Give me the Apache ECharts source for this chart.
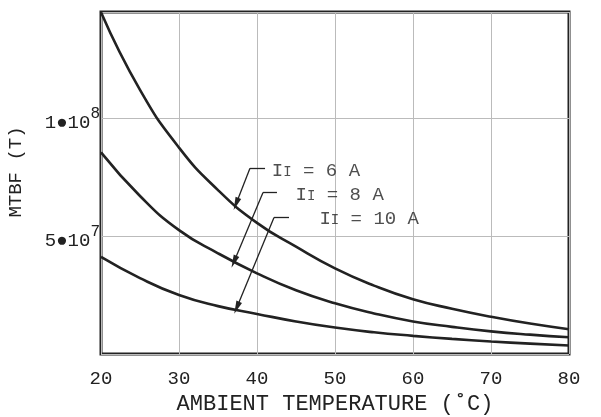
<!DOCTYPE html>
<html><head><meta charset="utf-8">
<script src="https://cdn.jsdelivr.net/npm/echarts@6/dist/echarts.min.js"></script>
<style>html,body{margin:0;padding:0;background:#fff}#c{width:601px;height:417px}</style>
</head><body><div id="c"></div>
<script>
const temps = [20, 25, 30, 35, 40, 45, 50, 55, 60, 65, 70, 75, 80];
const mtbf6A  = [1.449e8, 1.12e8, 8.75e7, 6.95e7, 5.56e7, 4.55e7, 3.63e7, 2.9e7, 2.32e7, 1.92e7, 1.58e7, 1.29e7, 1.05e7];
const mtbf8A  = [8.55e7, 6.7e7, 5.25e7, 4.27e7, 3.42e7, 2.7e7, 2.15e7, 1.72e7, 1.38e7, 1.15e7, 0.96e7, 0.82e7, 0.71e7];
const mtbf10A = [4.12e7, 3.22e7, 2.5e7, 2.03e7, 1.7e7, 1.38e7, 1.12e7, 0.92e7, 0.77e7, 0.64e7, 0.53e7, 0.44e7, 0.36e7];
const xTicks = [20, 30, 40, 50, 60, 70, 80];
const yTickValues = [5e7, 1e8];
const yTickBase = ['5\u25CF10', '1\u25CF10'];
const yTickExp = ['7', '8'];
const seriesNames = ['6 A', '8 A', '10 A'];
// annotation: text anchor [x,y], leader start, elbow, arrow tip (data coords)
const labelAnchor = [[41.9, 7.78e7], [44.95, 6.78e7], [48.0, 5.75e7]];
const leaderStart = [[41.03, 7.88e7], [42.56, 6.85e7], [44.10, 5.79e7]];
const leaderElbow = [[39.10, 7.88e7], [40.77, 6.85e7], [42.18, 5.79e7]];
const leaderTip   = [[37.31, 6.36e7], [37.05, 3.91e7], [37.40, 1.96e7]];

const FONT = '"Courier New", "Liberation Mono", monospace';
const INK = '#222';
const allSeries = [mtbf6A, mtbf8A, mtbf10A];

const chart = echarts.init(document.getElementById('c'), null, {renderer: 'canvas'});
const series = allSeries.map(vals => ({
  type: 'line', smooth: 0.5, symbol: 'none',
  lineStyle: {color: INK, width: 2.6},
  data: temps.map((t, i) => [t, vals[i]]),
  z: 3
}));
const mlData = [];
for (let i = 0; i < 3; i++) {
  mlData.push([{coord: leaderStart[i], symbol: 'none'}, {coord: leaderElbow[i], symbol: 'none'}]);
  mlData.push([{coord: leaderElbow[i], symbol: 'none'}, {coord: leaderTip[i], symbol: 'triangle', symbolSize: [6, 13]}]);
}
series.push({
  type: 'scatter', symbolSize: 0, silent: true,
  data: labelAnchor.map((p, i) => ({value: p, name: seriesNames[i]})),
  label: {
    show: true, position: 'right', distance: 0,
    formatter: p => '{b|I}{s|I}{b| = ' + p.name + '}',
    rich: {
      b: {fontFamily: FONT, fontSize: 19, color: INK, verticalAlign: 'bottom', lineHeight: 20},
      s: {fontFamily: FONT, fontSize: 14, color: INK, verticalAlign: 'bottom', lineHeight: 20, padding: [0, 0, 1, 0]}
    }
  },
  markLine: {
    silent: true, animation: false,
    lineStyle: {color: INK, width: 1.3, type: 'solid'},
    label: {show: false},
    data: mlData
  }
});

chart.setOption({
  animation: false,
  grid: {left: 101, right: 32, top: 12, bottom: 63, outerBoundsMode: 'none', containLabel: false,
    show: true, borderColor: INK, borderWidth: 3, backgroundColor: 'transparent'},
  xAxis: {
    type: 'value', min: 20, max: 80, interval: 10,
    axisLine: {show: false}, axisTick: {show: false},
    splitLine: {show: true, lineStyle: {color: '#bbb', width: 1}},
    axisLabel: {fontFamily: FONT, fontSize: 19, color: INK, margin: 15,
      formatter: v => xTicks.includes(v) ? String(v) : ''},
    name: 'AMBIENT TEMPERATURE (\u02DAC)', nameLocation: 'middle', nameGap: 39,
    nameTextStyle: {fontFamily: FONT, fontSize: 22, color: INK}
  },
  yAxis: {
    type: 'value', min: 0, max: 1.45e8, interval: 5e7,
    axisLine: {show: false}, axisTick: {show: false},
    splitLine: {show: true, lineStyle: {color: '#bbb', width: 1}},
    axisLabel: {
      margin: 1, showMaxLabel: false, showMinLabel: false,
      formatter: v => {
        const k = yTickValues.indexOf(v);
        return k < 0 ? '' : '{a|' + yTickBase[k] + '}{s|' + yTickExp[k] + '}';
      },
      rich: {
        a: {fontFamily: FONT, fontSize: 19, color: INK, padding: [9, 0, 0, 0]},
        s: {fontFamily: FONT, fontSize: 16, color: INK, padding: [0, 0, 9, 0]}
      }
    },
    name: 'MTBF (T)', nameLocation: 'middle', nameGap: 76,
    nameTextStyle: {fontFamily: FONT, fontSize: 19, color: INK, padding: [0, 0, 0, 22]}
  },
  series: series
});
</script></body></html>
